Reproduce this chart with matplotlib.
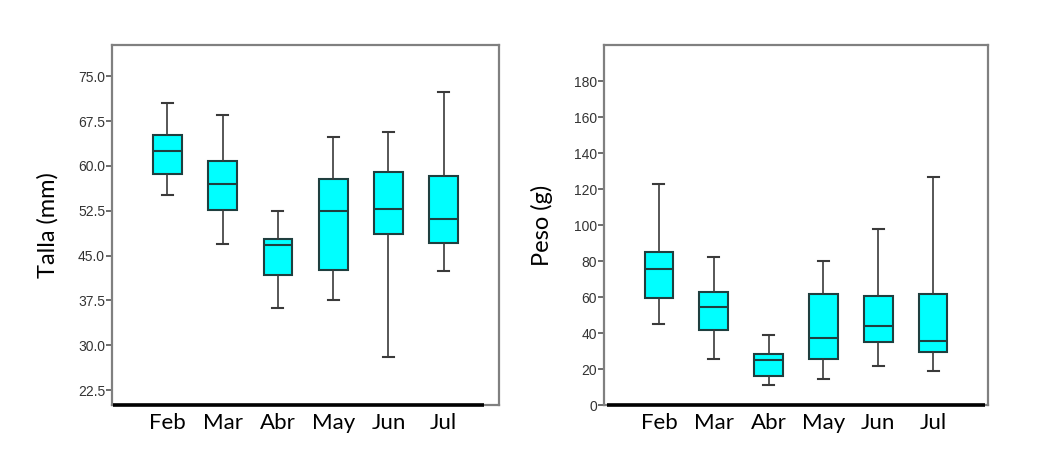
import matplotlib
matplotlib.use("Agg")
import matplotlib.pyplot as plt

months = ["Feb", "Mar", "Abr", "May", "Jun", "Jul"]

# Talla (mm): whisker low, Q1, median, Q3, whisker high
talla_low = [55.2, 47.0, 36.2, 37.5, 28.0, 42.5]
talla_q1 = [58.6, 52.6, 41.8, 42.6, 48.6, 47.1]
talla_med = [62.5, 56.9, 46.7, 52.4, 52.8, 51.1]
talla_q3 = [65.1, 60.8, 47.8, 57.9, 59.0, 58.3]
talla_high = [70.5, 68.5, 52.5, 64.9, 65.7, 72.3]

# Peso (g)
peso_low = [44.8, 25.7, 11.1, 14.6, 21.5, 19.1]
peso_q1 = [59.3, 42.0, 16.3, 25.4, 34.8, 29.3]
peso_med = [75.9, 54.3, 25.0, 37.2, 43.9, 35.7]
peso_q3 = [84.8, 62.6, 28.3, 61.7, 60.7, 62.0]
peso_high = [122.6, 82.4, 38.7, 79.8, 97.6, 126.7]

talla_ticks = [22.5, 30.0, 37.5, 45.0, 52.5, 60.0, 67.5, 75.0]
peso_ticks = [0, 20, 40, 60, 80, 100, 120, 140, 160, 180]

fig = plt.figure(figsize=(10.47, 4.76), dpi=100)
ax1 = fig.add_axes([0.107, 0.149, 0.3696, 0.756])
ax2 = fig.add_axes([0.5769, 0.149, 0.3668, 0.756])


def draw(ax, lo, q1, med, q3, hi, ticks, fmt, ylim, ylabel, blackline, labelpad):
    stats = []
    for m, a, b, c, d, e in zip(months, lo, q1, med, q3, hi):
        stats.append(dict(label=m, whislo=a, q1=b, med=c, q3=d, whishi=e, fliers=[]))
    pos = list(range(len(months)))
    ax.bxp(stats, positions=pos, widths=0.52, patch_artist=True, showfliers=False,
           boxprops=dict(facecolor="#00FFFF", edgecolor="#1f3f3f", linewidth=1.5),
           medianprops=dict(color="#1f3f3f", linewidth=1.5),
           whiskerprops=dict(color="#3a3a3a", linewidth=1.2),
           capprops=dict(color="#3a3a3a", linewidth=1.5),
           capwidths=0.2)
    ax.set_xlim(-1.0, 6.0)
    ax.set_ylim(*ylim)
    ax.set_yticks(ticks)
    ax.set_yticklabels([fmt.format(t) for t in ticks], fontsize=10,
                       family="Liberation Sans", color="#333333")
    ax.set_xticks(pos)
    ax.set_xticklabels(months, fontsize=16, family="Lato", color="black")
    ax.tick_params(axis="x", length=0, pad=6)
    ax.tick_params(axis="y", length=4, width=1.2, color="#555555", pad=1)
    for s in ax.spines.values():
        s.set_color("#808080")
        s.set_linewidth(1.6)
    ax.plot(blackline, [0, 0], transform=ax.get_xaxis_transform(), color="black",
            lw=2.6, clip_on=False, solid_capstyle="butt", zorder=5)
    ax.set_ylabel(ylabel, fontsize=17, family="Lato", labelpad=labelpad)


draw(ax1, talla_low, talla_q1, talla_med, talla_q3, talla_high, talla_ticks, "{:.1f}",
     (20.0, 80.2), "Talla (mm)", [-0.98, 5.73], 14)
draw(ax2, peso_low, peso_q1, peso_med, peso_q3, peso_high, peso_ticks, "{:d}",
     (0, 200), "Peso (g)", [-0.95, 5.95], 15)

fig.savefig("out.png", dpi=100)
